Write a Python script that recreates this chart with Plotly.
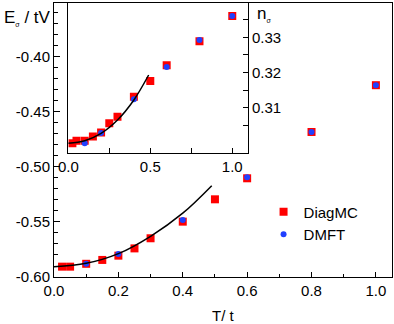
import plotly.graph_objects as go

# temperatures
T = [0.025, 0.05, 0.1, 0.15, 0.2, 0.25, 0.3, 0.4, 0.5, 0.6, 0.8, 1.0]
T_dmft = [0.1, 0.2, 0.4, 0.6, 0.8, 1.0]

# energy per particle (main panel)
E_diagmc = [-0.5906, -0.5906, -0.5880, -0.5845, -0.5806, -0.5740, -0.5648,
            -0.5497, -0.5294, -0.5103, -0.4682, -0.4257]
E_dmft = [-0.5880, -0.5790, -0.5482, -0.5094, -0.4682, -0.4257]
# low-T fit curve
T_fit = [0.0, 0.1, 0.2, 0.3, 0.4, 0.49]
E_fit = [-0.5906, -0.5876, -0.5788, -0.5630, -0.5420, -0.5170]

# density (inset)
n_diagmc = [0.2999, 0.3006, 0.3006, 0.3018, 0.3029, 0.3056, 0.3074,
            0.3131, 0.3176, 0.3221, 0.3289, 0.3361]
n_dmft = [0.2999, 0.3028, 0.3124, 0.3216, 0.3293, 0.3361]
n_fit_T = [0.0, 0.1, 0.2, 0.3, 0.4, 0.49]
n_fit = [0.2999, 0.3006, 0.3027, 0.3065, 0.3122, 0.3193]

ytick_vals = [-0.60, -0.55, -0.50, -0.45, -0.40]
ytick_text = ["-0.60", "-0.55", "-0.50", "-0.45", "-0.40"]
n_tick_vals = [0.31, 0.32, 0.33]
n_minor_vals = [0.305, 0.315, 0.325, 0.335]

RED = "#ff0000"
BLUE = "#2040ff"
FONT = "Liberation Sans, Arial, sans-serif"

fig = go.Figure()

fig.add_trace(go.Scatter(x=T, y=E_diagmc, mode="markers", name="DiagMC",
                         marker=dict(symbol="square", size=8, color=RED)))
fig.add_trace(go.Scatter(x=T_dmft, y=E_dmft, mode="markers", name="DMFT",
                         marker=dict(symbol="circle", size=6, color=BLUE)))
fig.add_trace(go.Scatter(x=T_fit, y=E_fit, mode="lines", showlegend=False,
                         line=dict(color="black", width=1.5, shape="spline")))

fig.add_trace(go.Scatter(x=T, y=n_diagmc, mode="markers", showlegend=False,
                         xaxis="x2", yaxis="y2",
                         marker=dict(symbol="square", size=8, color=RED)))
fig.add_trace(go.Scatter(x=T_dmft, y=n_dmft, mode="markers", showlegend=False,
                         xaxis="x2", yaxis="y2",
                         marker=dict(symbol="circle", size=6, color=BLUE)))
fig.add_trace(go.Scatter(x=n_fit_T, y=n_fit, mode="lines", showlegend=False,
                         xaxis="x2", yaxis="y2",
                         line=dict(color="black", width=1.5, shape="spline")))

axis_common = dict(showline=True, linecolor="black", linewidth=1,
                   showgrid=False, zeroline=False, ticks="inside",
                   tickcolor="black", tickwidth=1)

fig.update_layout(
    width=394, height=324,
    margin=dict(l=54, r=2, t=3, b=47),
    paper_bgcolor="white", plot_bgcolor="white",
    font=dict(family=FONT, size=15, color="black"),
    xaxis=dict(**axis_common, range=[0, 1.05], dtick=0.2, tick0=0,
               tickformat=".1f", mirror=True, ticklen=5,
               minor=dict(ticks="inside", dtick=0.1, ticklen=3,
                          tickcolor="black")),
    yaxis=dict(**axis_common, range=[-0.60, -0.351], tickvals=ytick_vals,
               ticktext=ytick_text, mirror=True, ticklen=6,
               minor=dict(ticks="inside", dtick=0.01, ticklen=4,
                          tickcolor="black")),
    xaxis2=dict(**axis_common, domain=[0.0423, 0.574], anchor="y2",
                range=[0, 1.096], tickvals=[0, 0.5, 1.0],
                ticktext=["0.0", "0.5", "1.0"], mirror=True, ticklen=5,
                minor=dict(ticks="inside", tickvals=[0.25, 0.75], ticklen=5,
                           tickcolor="black")),
    yaxis2=dict(**axis_common, domain=[0.4526, 1], anchor="x2", side="right",
                range=[0.2971, 0.3398], tickvals=n_tick_vals,
                tickformat=".2f", mirror=True, ticklen=5,
                minor=dict(ticks="inside", tickvals=n_minor_vals, ticklen=5,
                           tickcolor="black")),
    legend=dict(x=0.62, y=0.197, xanchor="left", yanchor="middle",
                bgcolor="rgba(0,0,0,0)", font=dict(size=15),
                tracegroupgap=0, itemsizing="trace"),
    annotations=[
        dict(text="E<sub><span style='font-size:7px'>σ</span></sub> / tV",
             xref="paper", yref="paper", x=-0.155, y=0.945,
             xanchor="left", yanchor="middle", showarrow=False,
             font=dict(size=17)),
        dict(text="n<sub><span style='font-size:7px'>σ</span></sub>",
             xref="paper", yref="paper", x=0.595, y=0.96,
             xanchor="left", yanchor="middle", showarrow=False,
             font=dict(size=17)),
        dict(text="T/ t", xref="paper", yref="paper", x=0.5, y=-0.142,
             xanchor="center", yanchor="middle", showarrow=False,
             font=dict(size=15)),
    ],
)

fig.write_html("out.html", config={"displayModeBar": False},
               post_script="document.body.style.margin='0';")
